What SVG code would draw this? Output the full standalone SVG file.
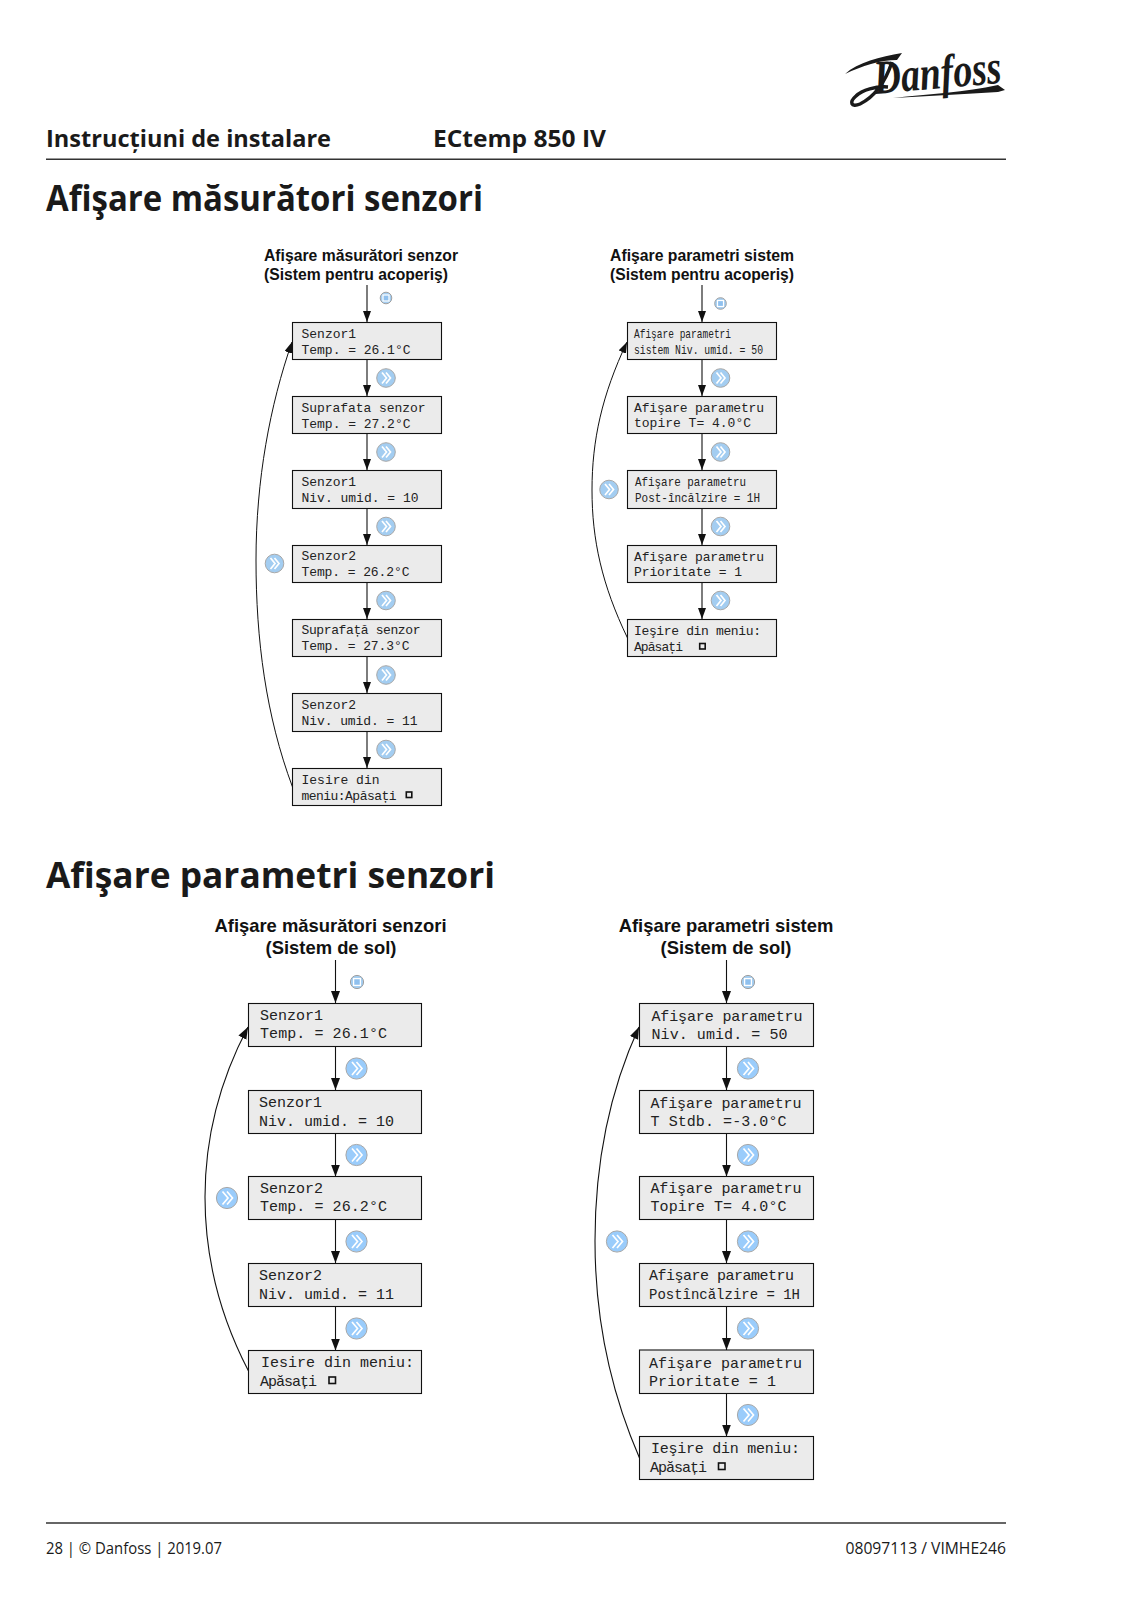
<svg xmlns="http://www.w3.org/2000/svg" width="1128" height="1601" viewBox="0 0 1128 1601">
<style>
.bg{fill:#fff}
.box{fill:#ebebeb;stroke:#111;stroke-width:1.1}
.lcd{font-family:"Liberation Mono","DejaVu Sans Mono",monospace;font-size:13px;fill:#222}
.lcd2{font-family:"Liberation Mono","DejaVu Sans Mono",monospace;font-size:15px;fill:#222}
.sq{fill:none;stroke:#111;stroke-width:1.6}
.cap{font-family:"Liberation Sans",Arial,sans-serif;font-weight:700;font-size:15.8px;fill:#111}
.cap2{font-family:"Liberation Sans",Arial,sans-serif;font-weight:700;font-size:18.4px;fill:#111;text-anchor:middle}
.hd{font-family:"Open Sans","Noto Sans",sans-serif;font-weight:700;fill:#1a1a1a}
.ft{font-family:"Open Sans","Noto Sans",sans-serif;font-size:16px;fill:#1a1a1a}
.rule{stroke:#333;stroke-width:1.4;fill:none}
.ln{fill:none;stroke:#111;stroke-width:1.1}
.a1{marker-end:url(#ah1)}
.a2{marker-end:url(#ah2)}
.nextc{fill:#a3cdf1;stroke:#a8a8a8;stroke-width:1}
.nextc2{fill:#9accfb;stroke:#a8a8a8;stroke-width:1}
.chev{fill:none;stroke:#fff;stroke-width:1.7}
.logo{font-family:"Liberation Serif",serif;font-style:italic;font-weight:700;fill:#1a1a1a}
</style>
<defs>
<marker id="ah1" markerUnits="userSpaceOnUse" markerWidth="12" markerHeight="9" refX="11" refY="4" orient="auto"><path d="M0 0L11 4L0 8Z" fill="#111"/></marker>
<marker id="ah2" markerUnits="userSpaceOnUse" markerWidth="13" markerHeight="10" refX="12" refY="4.5" orient="auto"><path d="M0 0L12 4.5L0 9Z" fill="#111"/></marker>
<g id="nx"><circle class="nextc" r="9.3"/><path class="chev" d="M-4-5.5L0.5 0L-4 5.5M0-5.5L4.5 0L0 5.5"/></g>
<g id="nx2"><circle class="nextc2" r="10.6"/><path class="chev" d="M-4.5-6.5L1 0L-4.5 6.5M0-6.5L5.5 0L0 6.5"/></g>
<g id="ok"><circle r="5.8" fill="#a3cdf1" stroke="#a0a0a0"/><rect x="-3" y="-3" width="6" height="6" fill="#8fc0ee" stroke="#fff" stroke-width="1.2"/></g>
<g id="ok2"><circle r="6.6" fill="#a3cdf1" stroke="#a0a0a0"/><rect x="-3.4" y="-3.4" width="6.8" height="6.8" fill="#8fc0ee" stroke="#fff" stroke-width="1.3"/></g>
</defs>
<rect class="bg" width="1128" height="1601"/>

<g id="logo">
<path d="M845 74C858 62 880 57 902 53L897 60C880 60 862 66 845 74Z" fill="#1a1a1a"/>
<path d="M892 62C886 80 876 96 860 104C851 108 849 102 856 96C862 90 876 86 888 87" fill="none" stroke="#1a1a1a" stroke-width="3.500"/>
<path d="M893 98C930 94 965 92 998 85L1005 90L998 92C965 94 930 96 893 98Z" fill="#1a1a1a"/>
<text class="logo" x="875" y="94" font-size="48" textLength="128" lengthAdjust="spacingAndGlyphs" transform="rotate(-5 875 94)">Danfoss</text>
</g>

<g id="header">
<text class="hd" x="46" y="147" font-size="24" textLength="285" lengthAdjust="spacingAndGlyphs">Instrucțiuni de instalare</text>
<text class="hd" x="433" y="147" font-size="24" textLength="173" lengthAdjust="spacingAndGlyphs">ECtemp 850 IV</text>
<line class="rule" x1="46" y1="159.300" x2="1006" y2="159.300"/>
<text class="hd" x="46" y="211" font-size="36" textLength="437" lengthAdjust="spacingAndGlyphs">Afişare măsurători senzori</text>
<text class="hd" x="46" y="888" font-size="36" textLength="449" lengthAdjust="spacingAndGlyphs">Afişare parametri senzori</text>
</g>

<g id="captions">
<text class="cap" x="264" y="261" textLength="194" lengthAdjust="spacingAndGlyphs">Afişare măsurători senzor</text>
<text class="cap" x="264" y="280" textLength="184" lengthAdjust="spacingAndGlyphs">(Sistem pentru acoperiş)</text>
<text class="cap" x="610" y="261" textLength="184" lengthAdjust="spacingAndGlyphs">Afişare parametri sistem</text>
<text class="cap" x="610" y="280" textLength="184" lengthAdjust="spacingAndGlyphs">(Sistem pentru acoperiş)</text>
<text class="cap2" x="330.500" y="932">Afişare măsurători senzori</text>
<text class="cap2" x="331" y="954">(Sistem de sol)</text>
<text class="cap2" x="726" y="932">Afişare parametri sistem</text>
<text class="cap2" x="726" y="954">(Sistem de sol)</text>
</g>

<g id="connectors">
<path class="ln a1" d="M367 285V322"/><path class="ln a1" d="M367 359.500V396"/><path class="ln a1" d="M367 433.500V470"/><path class="ln a1" d="M367 508V545"/><path class="ln a1" d="M367 582.500V619"/><path class="ln a1" d="M367 656.500V693"/><path class="ln a1" d="M367 731.500V768"/>
<path class="ln" style="stroke-width:1" d="M292.500 787C266 716 256 640 256 560C256 480 270 405 292 342" marker-end="url(#ah1)"/>
<path class="ln a1" d="M702 285V322"/><path class="ln a1" d="M702 359.500V396"/><path class="ln a1" d="M702 433.500V470"/><path class="ln a1" d="M702 508.500V545"/><path class="ln a1" d="M702 582.500V619"/>
<path class="ln" style="stroke-width:1" d="M627.500 638C602 585 592 540 592 490C592 440 602 395 627 342" marker-end="url(#ah1)"/>
<path class="ln a2" d="M335.500 960V1003"/><path class="ln a2" d="M335.500 1046.500V1090"/><path class="ln a2" d="M335.500 1133V1176.500"/><path class="ln a2" d="M335.500 1220V1263"/><path class="ln a2" d="M335.500 1306.500V1350.500"/>
<path class="ln a2" d="M248.500 1371C222 1320 205 1260 205 1197C205 1135 220 1080 248 1027"/>
<path class="ln a2" d="M726.500 960V1003"/><path class="ln a2" d="M726.500 1046.500V1090"/><path class="ln a2" d="M726.500 1133V1176.500"/><path class="ln a2" d="M726.500 1220V1263"/><path class="ln a2" d="M726.500 1306.500V1350"/><path class="ln a2" d="M726.500 1393.500V1436.500"/>
<path class="ln a2" d="M639.500 1458C610 1390 595 1320 595 1241C595 1160 610 1090 639 1027"/>
</g>

<g id="buttons">
<use href="#ok" x="386" y="298"/><use href="#nx" x="386" y="378"/><use href="#nx" x="386" y="452"/><use href="#nx" x="386" y="526.500"/><use href="#nx" x="386" y="600.500"/><use href="#nx" x="386" y="675"/><use href="#nx" x="386" y="749.500"/><use href="#nx" x="274.500" y="563.500"/>
<use href="#ok" x="720.500" y="303.500"/><use href="#nx" x="720.500" y="378"/><use href="#nx" x="720.500" y="452"/><use href="#nx" x="720.500" y="526.500"/><use href="#nx" x="720.500" y="600.500"/><use href="#nx" x="609" y="489.500"/>
<use href="#ok2" x="357" y="982"/><use href="#nx2" x="356.500" y="1068.500"/><use href="#nx2" x="356.500" y="1155"/><use href="#nx2" x="356.500" y="1241.500"/><use href="#nx2" x="356.500" y="1328.500"/><use href="#nx2" x="227" y="1198"/>
<use href="#ok2" x="748" y="982"/><use href="#nx2" x="748" y="1068.500"/><use href="#nx2" x="748" y="1155"/><use href="#nx2" x="748" y="1241.500"/><use href="#nx2" x="748" y="1328.500"/><use href="#nx2" x="748" y="1415"/><use href="#nx2" x="617" y="1241.500"/>
</g>

<g id="a1"><rect class="box" x="292.500" y="322.500" width="149" height="37"/><text class="lcd" x="301.500" y="337.500">Senzor1</text><text class="lcd" x="301.500" y="353.500" textLength="109">Temp. = 26.1°C</text></g>
<g id="a2"><rect class="box" x="292.500" y="396.500" width="149" height="37"/><text class="lcd" x="301.500" y="411.500" textLength="124">Suprafata senzor</text><text class="lcd" x="301.500" y="427.500" textLength="109">Temp. = 27.2°C</text></g>
<g id="a3"><rect class="box" x="292.500" y="470.500" width="149" height="38"/><text class="lcd" x="301.500" y="485.500">Senzor1</text><text class="lcd" x="301.500" y="502" textLength="117">Niv. umid. = 10</text></g>
<g id="a4"><rect class="box" x="292.500" y="545.500" width="149" height="37"/><text class="lcd" x="301.500" y="560">Senzor2</text><text class="lcd" x="301.500" y="576" textLength="108">Temp. = 26.2°C</text></g>
<g id="a5"><rect class="box" x="292.500" y="619.500" width="149" height="37"/><text class="lcd" x="301.500" y="634" textLength="119">Suprafață senzor</text><text class="lcd" x="301.500" y="650" textLength="108">Temp. = 27.3°C</text></g>
<g id="a6"><rect class="box" x="292.500" y="693.500" width="149" height="38"/><text class="lcd" x="301.500" y="708.500">Senzor2</text><text class="lcd" x="301.500" y="725" textLength="116">Niv. umid. = 11</text></g>
<g id="a7"><rect class="box" x="292.500" y="768.500" width="149" height="37"/><text class="lcd" x="301.500" y="783.500">Iesire din</text><text class="lcd" x="301.500" y="799.500" textLength="95">meniu:Apăsați</text><rect class="sq" x="406.300" y="792" width="5.500" height="5.500"/></g>

<g id="b1"><rect class="box" x="627.500" y="322.500" width="149" height="37"/><text class="lcd" x="634" y="337.500" textLength="97" lengthAdjust="spacingAndGlyphs">Afişare parametri</text><text class="lcd" x="634" y="353.500" textLength="129" lengthAdjust="spacingAndGlyphs">sistem Niv. umid. = 50</text></g>
<g id="b2"><rect class="box" x="627.500" y="396.500" width="149" height="37"/><text class="lcd" x="634" y="411.500" textLength="130">Afişare parametru</text><text class="lcd" x="634" y="427" textLength="117">topire T= 4.0°C</text></g>
<g id="b3"><rect class="box" x="627.500" y="470.500" width="149" height="38"/><text class="lcd" x="635" y="485.500" textLength="111" lengthAdjust="spacingAndGlyphs">Afişare parametru</text><text class="lcd" x="635" y="502" textLength="125" lengthAdjust="spacingAndGlyphs">Post-încălzire = 1H</text></g>
<g id="b4"><rect class="box" x="627.500" y="545.500" width="149" height="37"/><text class="lcd" x="634" y="560.500" textLength="130">Afişare parametru</text><text class="lcd" x="634" y="576" textLength="108">Prioritate = 1</text></g>
<g id="b5"><rect class="box" x="627.500" y="619.500" width="149" height="37"/><text class="lcd" x="634" y="635" textLength="127">Ieşire din meniu:</text><text class="lcd" x="634" y="651" textLength="49">Apăsați</text><rect class="sq" x="699.700" y="643.500" width="5.500" height="5.500"/></g>

<g id="c1"><rect class="box" x="248.500" y="1003.500" width="173" height="43"/><text class="lcd2" x="260" y="1020">Senzor1</text><text class="lcd2" x="260" y="1037.500" textLength="127">Temp. = 26.1°C</text></g>
<g id="c2"><rect class="box" x="248.500" y="1090.500" width="173" height="43"/><text class="lcd2" x="259" y="1107">Senzor1</text><text class="lcd2" x="259" y="1126" textLength="135">Niv. umid. = 10</text></g>
<g id="c3"><rect class="box" x="248.500" y="1176.500" width="173" height="43"/><text class="lcd2" x="260" y="1193">Senzor2</text><text class="lcd2" x="260" y="1211" textLength="127">Temp. = 26.2°C</text></g>
<g id="c4"><rect class="box" x="248.500" y="1263.500" width="173" height="43"/><text class="lcd2" x="259" y="1280">Senzor2</text><text class="lcd2" x="259" y="1299" textLength="135">Niv. umid. = 11</text></g>
<g id="c5"><rect class="box" x="248.500" y="1350.500" width="173" height="43"/><text class="lcd2" x="261" y="1367">Iesire din meniu:</text><text class="lcd2" x="260" y="1386" textLength="57">Apăsați</text><rect class="sq" x="329" y="1377" width="6.500" height="6.500"/></g>

<g id="d1"><rect class="box" x="639.500" y="1003.500" width="174" height="43"/><text class="lcd2" x="651.500" y="1021" textLength="151">Afişare parametru</text><text class="lcd2" x="651.500" y="1039" textLength="136">Niv. umid. = 50</text></g>
<g id="d2"><rect class="box" x="639.500" y="1090.500" width="174" height="43"/><text class="lcd2" x="650.500" y="1108" textLength="151">Afişare parametru</text><text class="lcd2" x="650.500" y="1126" textLength="136">T Stdb. =-3.0°C</text></g>
<g id="d3"><rect class="box" x="639.500" y="1176.500" width="174" height="43"/><text class="lcd2" x="650.500" y="1193" textLength="151">Afişare parametru</text><text class="lcd2" x="650.500" y="1211" textLength="136">Topire T= 4.0°C</text></g>
<g id="d4"><rect class="box" x="639.500" y="1263.500" width="174" height="43"/><text class="lcd2" x="649" y="1280" textLength="145">Afişare parametru</text><text class="lcd2" x="649" y="1299" textLength="151" lengthAdjust="spacingAndGlyphs">Postîncălzire = 1H</text></g>
<g id="d5"><rect class="box" x="639.500" y="1350" width="174" height="43.500"/><text class="lcd2" x="649" y="1368" textLength="153">Afişare parametru</text><text class="lcd2" x="649" y="1386" textLength="127">Prioritate = 1</text></g>
<g id="d6"><rect class="box" x="639.500" y="1436.500" width="174" height="43"/><text class="lcd2" x="651" y="1453" textLength="149">Ieşire din meniu:</text><text class="lcd2" x="650" y="1472" textLength="57">Apăsați</text><rect class="sq" x="718.500" y="1463" width="6.500" height="6.500"/></g>

<g id="footer">
<line class="rule" x1="46" y1="1523" x2="1006" y2="1523"/>
<text class="ft" x="46" y="1554" textLength="176" lengthAdjust="spacingAndGlyphs">28 | © Danfoss |  2019.07</text>
<text class="ft" x="845.500" y="1554" textLength="160.500" lengthAdjust="spacingAndGlyphs">08097113 / VIMHE246</text>
</g>
</svg>
